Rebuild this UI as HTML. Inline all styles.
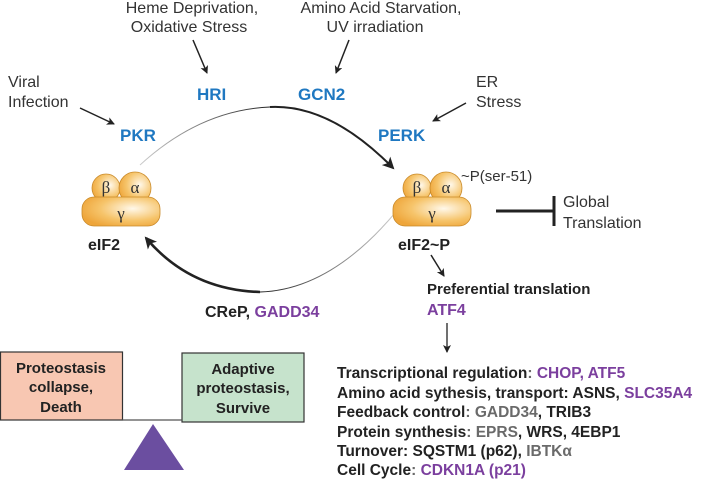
<!DOCTYPE html>
<html><head><meta charset="utf-8"><style>
html,body{margin:0;padding:0;background:#fff;}
svg{display:block;font-family:"Liberation Sans",sans-serif;}
.b{font-weight:bold;}
.blue{fill:#1f78c1;font-weight:bold;font-size:17px;}
.pu{fill:#7b3f9e;}
.gr{fill:#6a6a6a;}
</style></head><body>
<svg width="714" height="481" viewBox="0 0 714 481" xmlns="http://www.w3.org/2000/svg">
<defs>
<marker id="ah" markerWidth="8" markerHeight="8" refX="7" refY="4" orient="auto" markerUnits="userSpaceOnUse"><path d="M0,0 L8,4 L0,8 L2,4z" fill="#222"/></marker>
<marker id="ah2" markerWidth="12" markerHeight="12" refX="10" refY="6" orient="auto" markerUnits="userSpaceOnUse"><path d="M0,0 L12,6 L0,12 L3,6z" fill="#222"/></marker>
<radialGradient id="og" cx="0.65" cy="0.4" r="0.7"><stop offset="0" stop-color="#fff8ea"/><stop offset="0.6" stop-color="#f6c46a"/><stop offset="1" stop-color="#eea53a"/></radialGradient>
<linearGradient id="lg1" gradientUnits="userSpaceOnUse" x1="140" y1="0" x2="270" y2="0"><stop offset="0" stop-color="#ccc"/><stop offset="1" stop-color="#222"/></linearGradient>
<linearGradient id="lg2" gradientUnits="userSpaceOnUse" x1="395" y1="0" x2="260" y2="0"><stop offset="0" stop-color="#ccc"/><stop offset="1" stop-color="#222"/></linearGradient>
</defs>
<g font-size="16" fill="#333" text-anchor="middle">
<text x="192" y="13">Heme Deprivation,</text><text x="189" y="32">Oxidative Stress</text>
<text x="381" y="13">Amino Acid Starvation,</text><text x="375" y="32">UV irradiation</text>
</g>
<g font-size="16" fill="#333">
<text x="8" y="87">Viral</text><text x="8" y="107">Infection</text>
<text x="476" y="87">ER</text><text x="476" y="107">Stress</text>
</g>
<g stroke="#222" stroke-width="1.5" fill="none" marker-end="url(#ah)">
<line x1="193" y1="40" x2="207" y2="73"/>
<line x1="349" y1="40" x2="336" y2="73"/>
<line x1="80" y1="108" x2="114" y2="124"/>
<line x1="466" y1="103" x2="433" y2="121"/>
</g>
<text class="blue" x="197" y="100">HRI</text>
<text class="blue" x="298" y="100">GCN2</text>
<text class="blue" x="120" y="141">PKR</text>
<text class="blue" x="378" y="141">PERK</text>
<path d="M140,165 Q200,110 270,107" stroke="url(#lg1)" stroke-width="1" fill="none"/>
<path d="M270,107 Q330,104 393,168" stroke="#222" stroke-width="2" fill="none" marker-end="url(#ah2)"/>
<path d="M395,213 Q330,290 260,292" stroke="url(#lg2)" stroke-width="1" fill="none"/>
<path d="M260,292 Q190,290 146,238" stroke="#222" stroke-width="2.6" fill="none" marker-end="url(#ah2)"/>
<g stroke="#c98a2a" stroke-width="0.8" fill="url(#og)">
<circle cx="106" cy="188" r="14"/><circle cx="135" cy="188" r="16"/>
<rect x="82" y="197" width="78" height="29" rx="12"/>
<circle cx="417" cy="188" r="14"/><circle cx="446" cy="188" r="16"/>
<rect x="393" y="197" width="78" height="29" rx="12"/>
</g>
<g font-family="Liberation Serif,serif" font-size="17" fill="#333" text-anchor="middle">
<text x="106" y="193">β</text><text x="135" y="193">α</text><text x="121" y="219">γ</text>
<text x="417" y="193">β</text><text x="446" y="193">α</text><text x="432" y="219">γ</text>
</g>
<text x="88" y="250" font-size="16" class="b" fill="#222">eIF2</text>
<text x="398" y="250" font-size="16" class="b" fill="#222">eIF2~P</text>
<text x="461" y="181" font-size="15" fill="#333">~P(ser-51)</text>
<line x1="496" y1="211" x2="554" y2="211" stroke="#222" stroke-width="3"/>
<line x1="554" y1="196" x2="554" y2="226" stroke="#222" stroke-width="3"/>
<text x="563" y="207" font-size="16" fill="#333">Global</text>
<text x="563" y="228" font-size="16" fill="#333">Translation</text>
<line x1="431" y1="255" x2="444" y2="276" stroke="#222" stroke-width="1.5" marker-end="url(#ah)"/>
<text x="427" y="294" font-size="15" class="b" fill="#222">Preferential translation</text>
<text x="427" y="315" font-size="16" class="b pu">ATF4</text>
<line x1="447" y1="323" x2="447" y2="352" stroke="#222" stroke-width="1.3" marker-end="url(#ah)"/>
<text x="205" y="317" font-size="16" class="b" fill="#222">CReP, <tspan class="pu">GADD34</tspan></text>
<rect x="0.5" y="352" width="122" height="68" fill="#f8c7b2" stroke="#333" stroke-width="1.2"/>
<rect x="182" y="353" width="122" height="69" fill="#c6e3cc" stroke="#333" stroke-width="1.2"/>
<line x1="122" y1="420" x2="182" y2="420" stroke="#555" stroke-width="1.2"/>
<polygon points="153,424 124,470 184,470" fill="#6b4ea0"/>
<g font-size="15" class="b" fill="#222" text-anchor="middle">
<text x="61" y="373">Proteostasis</text><text x="61" y="392">collapse,</text><text x="61" y="412">Death</text>
<text x="243" y="374">Adaptive</text><text x="243" y="393">proteostasis,</text><text x="243" y="413">Survive</text>
</g>
<g font-size="15.5" class="b" fill="#222">
<text x="337" y="378">Transcriptional regulation<tspan class="gr">: </tspan><tspan class="pu">CHOP, ATF5</tspan></text>
<text x="337" y="398">Amino acid sythesis, transport: ASNS, <tspan class="pu">SLC35A4</tspan></text>
<text x="337" y="417">Feedback control<tspan class="gr">:</tspan> <tspan class="gr">GADD34</tspan>, TRIB3</text>
<text x="337" y="437">Protein synthesis<tspan class="gr">:</tspan> <tspan class="gr">EPRS</tspan>, WRS, 4EBP1</text>
<text x="337" y="456">Turnover: SQSTM1 (p62), <tspan class="gr">IBTKα</tspan></text>
<text x="337" y="475">Cell Cycle<tspan class="gr">:</tspan> <tspan class="pu">CDKN1A (p21)</tspan></text>
</g>
</svg>
</body></html>
